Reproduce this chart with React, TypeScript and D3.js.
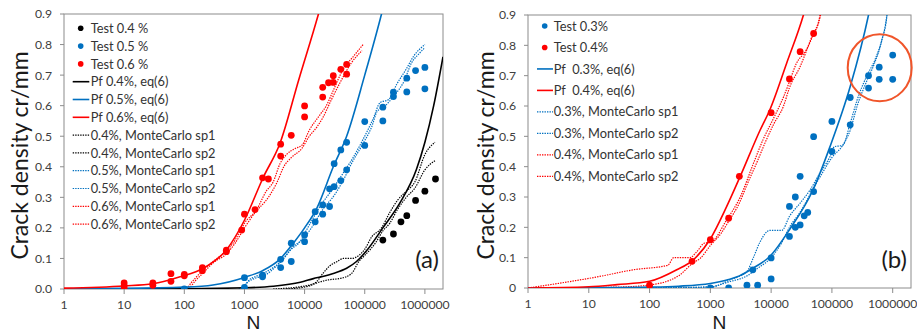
import React from "react";
import * as d3 from "d3";

type P = [number, number];

// ---------- shared ticks ----------
const xTickValues = [1, 10, 100, 1000, 10000, 100000, 1000000];
const xTickLabels = ["1", "10", "100", "1000", "10000", "100000", "1000000"];
const yTickValues = [0, 0.1, 0.2, 0.3, 0.4, 0.5, 0.6, 0.7, 0.8, 0.9];
const yTickLabelsA = ["0.0", "0.1", "0.2", "0.3", "0.4", "0.5", "0.6", "0.7", "0.8", "0.9"];
const yTickLabelsB = ["0", "0.1", "0.2", "0.3", "0.4", "0.5", "0.6", "0.7", "0.8", "0.9"];
const xDomain: P = [1, 2000000];
const yDomain: P = [0, 0.9];

// ---------- panel (a) data ----------
const testA04: P[] = [[200000, 0.16], [300000, 0.18], [400000, 0.22], [500000, 0.24], [700000, 0.29], [1000000, 0.32], [1500000, 0.36]];
const testA05: P[] = [
  [100, 0.0], [1000, 0.037], [1000, 0.005], [2000, 0.045], [2000, 0.04], [4000, 0.097], [4000, 0.07],
  [6000, 0.15], [6000, 0.09], [10000, 0.177], [10000, 0.155], [15000, 0.253], [15000, 0.22],
  [20000, 0.275], [20000, 0.245], [26000, 0.328], [26000, 0.27], [31000, 0.335], [31000, 0.41],
  [40000, 0.355], [40000, 0.455], [50000, 0.48], [50000, 0.39], [100000, 0.548], [100000, 0.47],
  [200000, 0.595], [200000, 0.55], [300000, 0.644], [300000, 0.63], [500000, 0.69], [500000, 0.645],
  [700000, 0.715], [1000000, 0.725], [1000000, 0.655],
];
const testA06: P[] = [
  [10, 0.02], [10, 0.01], [10, 0.0], [30, 0.02], [30, 0.012], [60, 0.05], [60, 0.025], [100, 0.048], [100, 0.043],
  [200, 0.07], [200, 0.06], [500, 0.127], [500, 0.122], [900, 0.193], [1000, 0.245], [1500, 0.26],
  [2000, 0.364], [2500, 0.36], [4000, 0.474], [4000, 0.435], [6000, 0.503], [10000, 0.599], [10000, 0.563],
  [20000, 0.66], [20000, 0.628], [25000, 0.675], [30000, 0.698], [30000, 0.676], [40000, 0.719],
  [50000, 0.735], [50000, 0.703],
];
const pfA04: P[] = [
  [1, 0.0], [100, 0.001], [1000, 0.004], [3000, 0.009], [8500, 0.022], [14000, 0.034], [20000, 0.041],
  [30000, 0.051], [50000, 0.068], [73000, 0.09], [107000, 0.125], [200000, 0.2], [380000, 0.28],
  [720000, 0.39], [1000000, 0.48], [1400000, 0.6], [2000000, 0.76],
];
const pfA05: P[] = [
  [1, 0.001], [10, 0.002], [100, 0.006], [300, 0.013], [1000, 0.038], [2000, 0.06], [3900, 0.098],
  [6500, 0.15], [10000, 0.2], [16000, 0.265], [30000, 0.4], [50000, 0.5], [100000, 0.7], [190000, 0.9], [220000, 0.95],
];
const pfA06: P[] = [
  [1, 0.003], [10, 0.01], [30, 0.017], [85, 0.04], [207, 0.068], [500, 0.128], [1000, 0.225],
  [2050, 0.365], [3900, 0.477], [8000, 0.685], [17000, 0.9], [20000, 0.95],
];
const mcA04s1: P[] = [
  [3000, 0.0], [10000, 0.01], [15000, 0.02], [20000, 0.05], [26000, 0.075], [35000, 0.09], [44000, 0.1],
  [60000, 0.1], [80000, 0.11], [100000, 0.13], [130000, 0.17], [190000, 0.2], [260000, 0.25],
  [350000, 0.29], [490000, 0.32], [680000, 0.35], [1000000, 0.44], [1470000, 0.48],
];
const mcA04s2: P[] = [
  [5000, 0.0], [12000, 0.01], [16000, 0.02], [25000, 0.03], [40000, 0.035], [60000, 0.05], [80000, 0.09],
  [100000, 0.11], [150000, 0.15], [200000, 0.19], [260000, 0.215], [350000, 0.26], [490000, 0.3],
  [680000, 0.33], [1000000, 0.39], [1470000, 0.42],
];
const mcA05s1: P[] = [
  [800, 0.0], [1000, 0.01], [1200, 0.03], [1500, 0.04], [2000, 0.05], [3000, 0.07], [4000, 0.09],
  [6000, 0.13], [8000, 0.15], [12000, 0.21], [18000, 0.27], [30000, 0.33], [44000, 0.38], [64000, 0.43],
  [94000, 0.49], [140000, 0.56], [180000, 0.61], [250000, 0.62], [340000, 0.67], [490000, 0.72],
  [640000, 0.76], [1000000, 0.8],
];
const mcA05s2: P[] = [
  [900, 0.0], [1100, 0.02], [1500, 0.035], [2200, 0.045], [3000, 0.065], [4500, 0.1], [6500, 0.14],
  [9000, 0.16], [13000, 0.2], [20000, 0.26], [32000, 0.31], [45000, 0.36], [60000, 0.41], [90000, 0.47],
  [130000, 0.53], [160000, 0.58], [220000, 0.6], [300000, 0.63], [450000, 0.68], [600000, 0.74],
  [800000, 0.77], [1000000, 0.79],
];
const mcA06s1: P[] = [
  [110, 0.0], [130, 0.02], [160, 0.04], [200, 0.06], [300, 0.09], [500, 0.125], [700, 0.16], [850, 0.19],
  [1000, 0.215], [1600, 0.26], [2300, 0.32], [3000, 0.35], [3900, 0.41], [5000, 0.44], [7000, 0.46],
  [9000, 0.47], [12000, 0.52], [18000, 0.57], [23000, 0.6], [30000, 0.65], [44000, 0.72], [64000, 0.76],
  [94000, 0.8],
];
const mcA06s2: P[] = [
  [120, 0.0], [150, 0.025], [200, 0.05], [300, 0.085], [500, 0.115], [700, 0.15], [1000, 0.2], [1500, 0.25],
  [2500, 0.3], [3500, 0.35], [4500, 0.4], [6000, 0.43], [9000, 0.46], [12000, 0.5], [16000, 0.53],
  [20000, 0.56], [28000, 0.62], [40000, 0.68], [60000, 0.74], [90000, 0.78],
];

// ---------- panel (b) data ----------
const testB03: P[] = [
  [100, 0.0], [1000, 0.0], [2000, 0.0], [4000, 0.009], [6000, 0.009], [10000, 0.03], [10000, 0.099],
  [5000, 0.06], [20000, 0.17], [20000, 0.269], [25000, 0.3], [25000, 0.2], [30000, 0.368], [30000, 0.208],
  [35000, 0.238], [40000, 0.249], [50000, 0.499], [50000, 0.318], [100000, 0.549], [100000, 0.45],
  [200000, 0.628], [200000, 0.538], [400000, 0.7], [400000, 0.659], [600000, 0.728], [600000, 0.688],
  [1000000, 0.768], [1000000, 0.688],
];
const testB04: P[] = [
  [100, 0.009], [500, 0.088], [1000, 0.159], [2000, 0.23], [3000, 0.368], [10000, 0.578], [20000, 0.689],
  [30000, 0.779], [50000, 0.839],
];
const pfB03: P[] = [
  [1, 0.0], [10, 0.001], [100, 0.003], [300, 0.006], [1000, 0.015], [2000, 0.028], [3000, 0.04],
  [5100, 0.066], [9500, 0.104], [20000, 0.192], [49000, 0.324], [93000, 0.466], [200000, 0.664],
  [400000, 0.9], [450000, 0.95],
];
const pfB04: P[] = [
  [1, 0.0], [10, 0.004], [29, 0.011], [100, 0.022], [280, 0.06], [525, 0.093], [980, 0.159],
  [1860, 0.269], [3100, 0.368], [6600, 0.521], [9500, 0.587], [18000, 0.741], [34000, 0.9], [40000, 0.95],
];
const mcB03s1: P[] = [
  [1, 0.0], [100, 0.001], [1000, 0.003], [2100, 0.027], [4000, 0.055], [5100, 0.1], [6500, 0.15],
  [9500, 0.19], [15000, 0.19], [20000, 0.236], [30000, 0.28], [44000, 0.324], [63000, 0.378],
  [93000, 0.433], [110000, 0.466], [150000, 0.47], [200000, 0.543], [260000, 0.62], [370000, 0.697],
  [510000, 0.752], [660000, 0.817], [800000, 0.895], [850000, 0.95],
];
const mcB03s2: P[] = [
  [1, 0.0], [300, 0.001], [1000, 0.004], [2000, 0.02], [4000, 0.04], [6000, 0.065], [10000, 0.1],
  [15000, 0.15], [20000, 0.2], [30000, 0.25], [50000, 0.33], [70000, 0.38], [100000, 0.43], [150000, 0.47],
  [200000, 0.52], [260000, 0.6], [370000, 0.68], [500000, 0.74], [650000, 0.81], [800000, 0.9], [850000, 0.95],
];
const mcB04s1: P[] = [
  [1, 0.0], [15, 0.038], [54, 0.06], [200, 0.075], [250, 0.1], [460, 0.1], [600, 0.12], [800, 0.148],
  [1000, 0.15], [1860, 0.225], [3100, 0.3], [5100, 0.41], [7400, 0.49], [11000, 0.56], [16000, 0.63],
  [20000, 0.68], [26000, 0.74], [38000, 0.785], [49000, 0.834], [63000, 0.895], [70000, 0.95],
];
const mcB04s2: P[] = [
  [1, 0.0], [30, 0.003], [100, 0.01], [300, 0.04], [500, 0.08], [700, 0.1], [1000, 0.14], [1500, 0.18],
  [2000, 0.22], [3000, 0.28], [4000, 0.34], [6000, 0.42], [8000, 0.48], [11000, 0.54], [16000, 0.6],
  [20000, 0.66], [30000, 0.73], [45000, 0.82], [65000, 0.9], [72000, 0.95],
];

const BLUE = "#0070c0";
const RED = "#ff0000";
const BLACK = "#000000";
const ORANGE = "#f0552a";
const FRAME = "#8c8c8c";
const FONT = "Lato, 'Open Sans', sans-serif";
const N_FONT = "'Liberation Sans', Arial, sans-serif";
const DOT_DASH = "1.4,1.1";

type Series = { data: P[]; color: string; kind: "dots" | "solid" | "dotted" };
type LegendItem = { label: string; color: string; kind: "dots" | "solid" | "dotted" };

type PanelProps = {
  id: string;
  x0: number; x1: number; y0: number; y1: number;
  titleX: number;
  yLabels: string[];
  series: Series[];
  legend: LegendItem[];
  legendY0: number; legendStep: number;
  legendLineX0: number; legendLineX1: number; legendDotX: number; legendTextX: number;
  tag: string;
  tagX: number;
};

function Panel(p: PanelProps) {
  const x = d3.scaleLog().domain(xDomain).range([p.x0, p.x1]);
  const y = d3.scaleLinear().domain(yDomain).range([p.y1, p.y0]);
  const line = d3.line<P>().x((d) => x(d[0])).y((d) => y(d[1])).curve(d3.curveMonotoneX);
  const clipId = "clip-" + p.id;
  const order = [
    ...p.series.filter((s) => s.kind === "dotted"),
    ...p.series.filter((s) => s.kind === "solid"),
    ...p.series.filter((s) => s.kind === "dots"),
  ];
  return (
    <g>
      <defs>
        <clipPath id={clipId}>
          <rect x={p.x0} y={p.y0} width={p.x1 - p.x0} height={p.y1 - p.y0} />
        </clipPath>
      </defs>
      <rect x={p.x0} y={p.y0} width={p.x1 - p.x0} height={p.y1 - p.y0} fill="none" stroke={FRAME} strokeWidth={1} />
      {yTickValues.map((v, i) => (
        <g key={"yt" + i}>
          <line x1={p.x0 - 4} x2={p.x0} y1={y(v)} y2={y(v)} stroke={FRAME} strokeWidth={1} />
          <text x={p.x0 - 12} y={y(v)} dy="0.36em" textAnchor="end" fontSize={12.2} fill="#404040" fontFamily={FONT}>
            {p.yLabels[i]}
          </text>
        </g>
      ))}
      {xTickValues.map((v, i) => (
        <g key={"xt" + i}>
          <line x1={x(v)} x2={x(v)} y1={p.y1} y2={p.y1 + 5} stroke={FRAME} strokeWidth={1} />
          <text x={x(v)} y={p.y1 + 19.5} textAnchor="middle" fontSize={12.2} fill="#404040" fontFamily={FONT}>
            {xTickLabels[i]}
          </text>
        </g>
      ))}
      <text
        transform={`translate(${p.titleX},${(p.y0 + p.y1) / 2 + 4}) rotate(-90)`}
        textAnchor="middle"
        dy="0.35em"
        fontSize={23}
        fill="#1a1a1a"
        fontFamily={FONT}
      >
        Crack density cr/mm
      </text>
      <text x={(p.x0 + p.x1) / 2} y={328.8} textAnchor="middle" fontSize={19.2} fill="#1a1a1a" fontFamily={N_FONT}>
        N
      </text>
      <g clipPath={`url(#${clipId})`}>
        {order.map((s, i) =>
          s.kind === "dots" ? (
            <g key={"s" + i}>
              {s.data.map((d, j) => (
                <circle key={j} cx={x(d[0])} cy={y(d[1])} r={3.4} fill={s.color} />
              ))}
            </g>
          ) : (
            <path
              key={"s" + i}
              d={line(s.data) || ""}
              fill="none"
              stroke={s.color}
              strokeWidth={s.kind === "solid" ? 1.6 : 1.2}
              strokeDasharray={s.kind === "dotted" ? DOT_DASH : undefined}
            />
          )
        )}
      </g>
      {p.legend.map((l, i) => {
        const ly = p.legendY0 + i * p.legendStep;
        return (
          <g key={"lg" + i}>
            {l.kind === "dots" ? (
              <circle cx={p.legendDotX} cy={ly} r={2.8} fill={l.color} />
            ) : (
              <line
                x1={p.legendLineX0}
                x2={p.legendLineX1}
                y1={ly}
                y2={ly}
                stroke={l.color}
                strokeWidth={l.kind === "solid" ? 1.6 : 1.2}
                strokeDasharray={l.kind === "dotted" ? DOT_DASH : undefined}
              />
            )}
            <text x={p.legendTextX} y={ly} dy="0.36em" fontSize={12.8} fill="#333" fontFamily={FONT} style={{ whiteSpace: "pre" }}>
              {l.label}
            </text>
          </g>
        );
      })}
      <text x={p.tagX} y={268} textAnchor="end" fontSize={24} fill="#1a1a1a" fontFamily={FONT}>
        {p.tag}
      </text>
    </g>
  );
}

export default function App() {
  const seriesA: Series[] = [
    { data: mcA04s1, color: BLACK, kind: "dotted" },
    { data: mcA04s2, color: BLACK, kind: "dotted" },
    { data: mcA05s1, color: BLUE, kind: "dotted" },
    { data: mcA05s2, color: BLUE, kind: "dotted" },
    { data: mcA06s1, color: RED, kind: "dotted" },
    { data: mcA06s2, color: RED, kind: "dotted" },
    { data: pfA04, color: BLACK, kind: "solid" },
    { data: pfA05, color: BLUE, kind: "solid" },
    { data: pfA06, color: RED, kind: "solid" },
    { data: testA04, color: BLACK, kind: "dots" },
    { data: testA05, color: BLUE, kind: "dots" },
    { data: testA06, color: RED, kind: "dots" },
  ];
  const legendA: LegendItem[] = [
    { label: "Test 0.4 %", color: BLACK, kind: "dots" },
    { label: "Test 0.5 %", color: BLUE, kind: "dots" },
    { label: "Test 0.6 %", color: RED, kind: "dots" },
    { label: "Pf 0.4%, eq(6)", color: BLACK, kind: "solid" },
    { label: "Pf 0.5%, eq(6)", color: BLUE, kind: "solid" },
    { label: "Pf 0.6%, eq(6)", color: RED, kind: "solid" },
    { label: "0.4%, MonteCarlo sp1", color: BLACK, kind: "dotted" },
    { label: "0.4%, MonteCarlo sp2", color: BLACK, kind: "dotted" },
    { label: "0.5%, MonteCarlo sp1", color: BLUE, kind: "dotted" },
    { label: "0.5%, MonteCarlo sp2", color: BLUE, kind: "dotted" },
    { label: "0.6%, MonteCarlo sp1", color: RED, kind: "dotted" },
    { label: "0.6%, MonteCarlo sp2", color: RED, kind: "dotted" },
  ];
  const seriesB: Series[] = [
    { data: mcB03s1, color: BLUE, kind: "dotted" },
    { data: mcB03s2, color: BLUE, kind: "dotted" },
    { data: mcB04s1, color: RED, kind: "dotted" },
    { data: mcB04s2, color: RED, kind: "dotted" },
    { data: pfB03, color: BLUE, kind: "solid" },
    { data: pfB04, color: RED, kind: "solid" },
    { data: testB03, color: BLUE, kind: "dots" },
    { data: testB04, color: RED, kind: "dots" },
  ];
  const legendB: LegendItem[] = [
    { label: "Test 0.3%", color: BLUE, kind: "dots" },
    { label: "Test 0.4%", color: RED, kind: "dots" },
    { label: "Pf  0.3%, eq(6)", color: BLUE, kind: "solid" },
    { label: "Pf  0.4%, eq(6)", color: RED, kind: "solid" },
    { label: "0.3%, MonteCarlo sp1", color: BLUE, kind: "dotted" },
    { label: "0.3%, MonteCarlo sp2", color: BLUE, kind: "dotted" },
    { label: "0.4%, MonteCarlo sp1", color: RED, kind: "dotted" },
    { label: "0.4%, MonteCarlo sp2", color: RED, kind: "dotted" },
  ];
  return (
    <div style={{ position: "absolute", left: 0, top: 0, width: 917, height: 333, background: "#fff" }}>
      <svg width={917} height={333} style={{ display: "block" }}>
        <rect width={917} height={333} fill="#fff" />
        <Panel
          id="a"
          x0={64} x1={443} y0={14} y1={289}
          titleX={20}
          yLabels={yTickLabelsA}
          series={seriesA}
          legend={legendA}
          legendY0={28.3} legendStep={17.8}
          legendLineX0={72.7} legendLineX1={89.3} legendDotX={80.7} legendTextX={90.7}
          tag="(a)" tagX={439}
        />
        <Panel
          id="b"
          x0={528} x1={911} y0={15} y1={288}
          titleX={486}
          yLabels={yTickLabelsB}
          series={seriesB}
          legend={legendB}
          legendY0={26} legendStep={21.47}
          legendLineX0={537} legendLineX1={553} legendDotX={544.7} legendTextX={553.7}
          tag="(b)" tagX={907}
        />
        <ellipse cx={879.7} cy={67.7} rx={32} ry={33.5} fill="none" stroke={ORANGE} strokeWidth={2} />
      </svg>
    </div>
  );
}
